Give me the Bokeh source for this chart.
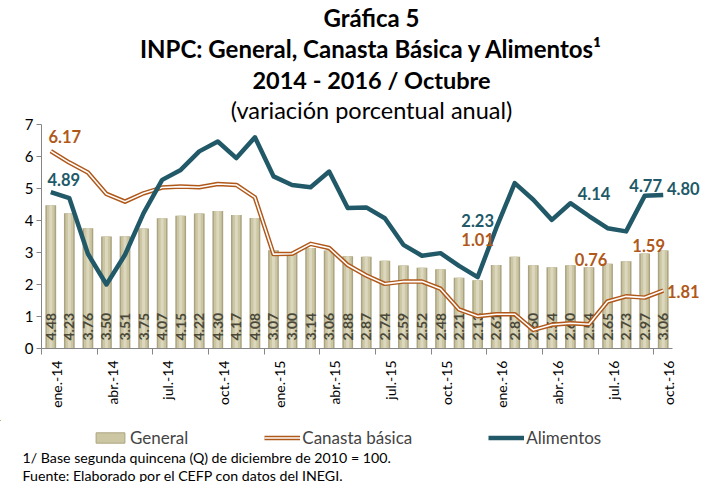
from math import pi
from bokeh.plotting import figure
from bokeh.models import (ColumnDataSource, FixedTicker, Range1d, Legend, LegendItem,
                          Title, Label)
from bokeh.core.properties import value
from bokeh.embed import file_html
from bokeh.resources import INLINE

# ---------------- data ----------------
months = ["ene.-14", "feb.-14", "mar.-14", "abr.-14", "may.-14", "jun.-14",
          "jul.-14", "ago.-14", "sep.-14", "oct.-14", "nov.-14", "dic.-14",
          "ene.-15", "feb.-15", "mar.-15", "abr.-15", "may.-15", "jun.-15",
          "jul.-15", "ago.-15", "sep.-15", "oct.-15", "nov.-15", "dic.-15",
          "ene.-16", "feb.-16", "mar.-16", "abr.-16", "may.-16", "jun.-16",
          "jul.-16", "ago.-16", "sep.-16", "oct.-16"]

general = [4.48, 4.23, 3.76, 3.50, 3.51, 3.75, 4.07, 4.15, 4.22, 4.30, 4.17, 4.08,
           3.07, 3.00, 3.14, 3.06, 2.88, 2.87, 2.74, 2.59, 2.52, 2.48, 2.21, 2.13,
           2.61, 2.87, 2.60, 2.54, 2.60, 2.54, 2.65, 2.73, 2.97, 3.06]

canasta = [6.17, 5.81, 5.50, 4.83, 4.59, 4.85, 5.03, 5.06, 5.04, 5.14, 5.11, 4.72,
           2.95, 2.96, 3.27, 3.14, 2.61, 2.28, 2.02, 2.09, 2.09, 1.87, 1.22, 1.01,
           1.07, 1.07, 0.58, 0.74, 0.79, 0.76, 1.47, 1.63, 1.59, 1.81]

alimentos = [4.89, 4.70, 2.96, 2.00, 2.93, 4.23, 5.27, 5.58, 6.16, 6.47, 5.95, 6.60,
             5.38, 5.11, 5.04, 5.53, 4.39, 4.41, 4.07, 3.24, 2.90, 2.98, 2.58, 2.23,
             3.76, 5.17, 4.65, 4.02, 4.54, 4.14, 3.76, 3.66, 4.77, 4.80]

labelled_alimentos = [0, 23, 29, 32, 33]
labelled_canasta = [0, 23, 29, 32, 33]

series_names = ["General", "Canasta básica", "Alimentos"]

title_lines = ["Gráfica 5",
               "INPC: General, Canasta Básica y Alimentos¹",
               "2014 - 2016 / Octubre",
               "(variación porcentual anual)"]
notes = ["1/ Base segunda quincena (Q) de diciembre de 2010 = 100.",
         "Fuente: Elaborado por el CEFP con datos del INEGI."]

# ---------------- layout / style constants ----------------
W = 701
LEFT, TOP, BOTTOM = 41, 120, 72
N = len(months)
UNIT = 631 / N                 # px per category
FW, FH = W - LEFT, 224
XMIN = -0.5
XMAX = XMIN + FW / UNIT
YMIN, YMAX = 0, 7
H2 = 478 - (TOP + FH + BOTTOM)  # height of the legend / notes strip
STRIP_X0, STRIP_Y0 = 1000, -1000  # strip coordinates, far from the series' values
LABEL_SHIFT = 0.3               # nudge rotated month labels onto their category
FONT = "Lato"
TEAL = "#215968"
ORANGE = "#B0581A"
AXIS_GREY = "#868686"
BAR_DARK, BAR_MID, BAR_LIGHT = "#ABA482", "#CCC6A3", "#DCD8C0"

x = list(range(N))
src = ColumnDataSource(dict(x=x, month=months, general=general, canasta=canasta,
                            alimentos=alimentos,
                            glabel=[f"{v:.2f}" for v in general]))

p = figure(frame_width=FW, frame_height=FH,
           x_range=Range1d(XMIN, XMAX), y_range=Range1d(YMIN, YMAX),
           output_backend="svg", toolbar_location=None, title=title_lines[0],
           min_border_left=LEFT, min_border_right=0,
           min_border_top=TOP, min_border_bottom=BOTTOM)
p.outline_line_color = None
p.xgrid.grid_line_color = None
p.ygrid.grid_line_color = None

# bars (cylinder-like shading)
p.vbar(x="x", top="general", width=0.58, source=src, fill_color=BAR_DARK, line_color=None)
p.vbar(x="x", top="general", width=0.42, source=src, fill_color=BAR_MID, line_color=None)
p.vbar(x="x", top="general", width=0.16, source=src, fill_color=BAR_LIGHT, line_color=None)

# bar value labels
p.text(x="x", y=0.25, text="glabel", source=src, angle=pi / 2,
       text_align="left", text_baseline="middle",
       text_font=value(FONT), text_font_style="bold", text_font_size="14px",
       text_color="#4A4838")

# lines
p.line("x", "canasta", source=src, line_color=ORANGE, line_width=4.5, line_join="round")
p.line("x", "canasta", source=src, line_color="white", line_width=1.6, line_join="round")
p.line("x", "alimentos", source=src, line_color=TEAL, line_width=4.5, line_join="round")

# value labels on lines
ali_off = [(13, -13), (0, -57), (5, -23), (1, -10), (20, -6)]
can_off = [(14, -15), (0, -77), (2, -65), (4, -52), (20, 1)]

ali_src = ColumnDataSource(dict(
    x=labelled_alimentos,
    y=[alimentos[i] for i in labelled_alimentos],
    t=[f"{alimentos[i]:.2f}" for i in labelled_alimentos],
    ox=[o[0] for o in ali_off], oy=[o[1] for o in ali_off]))
can_src = ColumnDataSource(dict(
    x=labelled_canasta,
    y=[canasta[i] for i in labelled_canasta],
    t=[f"{canasta[i]:.2f}" for i in labelled_canasta],
    ox=[o[0] for o in can_off], oy=[o[1] for o in can_off]))

for s, c in ((ali_src, TEAL), (can_src, ORANGE)):
    p.text(x="x", y="y", text="t", x_offset="ox", y_offset="oy", source=s,
           text_align="center", text_baseline="middle",
           text_font=value(FONT), text_font_style="bold", text_font_size="16.5px",
           text_color=c)

# axes
xt = x[::3]
p.xaxis.ticker = FixedTicker(ticks=[i + LABEL_SHIFT for i in xt],
                             minor_ticks=[i - 0.5 for i in xt])
p.xaxis.bounds = (-0.5, N - 0.5)
p.xaxis.major_label_overrides = {i + LABEL_SHIFT: months[i] for i in xt}
p.xaxis.major_label_orientation = pi / 2
p.xaxis.major_tick_out = 0
p.xaxis.major_tick_in = 0
p.xaxis.minor_tick_out = 6
p.xaxis.minor_tick_in = 0
p.xaxis.minor_tick_line_color = AXIS_GREY
p.xaxis.axis_line_color = AXIS_GREY
p.xaxis.major_label_text_font = FONT
p.xaxis.major_label_text_font_size = "14px"
p.xaxis.major_label_text_color = "black"
p.xaxis.major_label_standoff = 6

p.yaxis.ticker = FixedTicker(ticks=list(range(YMIN, YMAX + 1)))
p.yaxis.major_tick_out = 5
p.yaxis.major_tick_in = 0
p.yaxis.minor_tick_out = 0
p.yaxis.minor_tick_in = 0
p.yaxis.major_tick_line_color = AXIS_GREY
p.yaxis.axis_line_color = AXIS_GREY
p.yaxis.major_label_text_font = FONT
p.yaxis.major_label_text_font_size = "15px"
p.yaxis.major_label_text_color = "black"
p.yaxis.major_label_standoff = 3

# titles: p.title is outermost; p.above stacks outward from the frame
p.title.align = "center"
p.title.text_font = FONT
p.title.text_font_size = "24px"
p.title.text_font_style = "bold"
p.title.text_color = "black"
p.title.standoff = 0
p.title.offset = 2.5
for txt, st, off, style, size in ((title_lines[3], 1, -13, "normal", "23.5px"),
                                  (title_lines[2], 0, 6.5, "bold", "23.5px"),
                                  (title_lines[1], 1, -6, "bold", "24px")):
    p.add_layout(Title(text=txt, align="center", text_font=FONT, text_font_size=size,
                       text_font_style=style, text_color="black", standoff=st,
                       offset=off), "above")

# ---------------- legend + notes strip ----------------
p2 = figure(width=W, height=H2,
            x_range=Range1d(STRIP_X0, STRIP_X0 + W),
            y_range=Range1d(STRIP_Y0 - H2, STRIP_Y0),
            x_axis_type=None, y_axis_type=None, output_backend="svg",
            toolbar_location=None, min_border=0, min_border_left=0,
            min_border_right=0, min_border_top=0, min_border_bottom=0)
p2.outline_line_color = None

# legend proxies (their marks fall far outside this strip's visible range)
leg_bar = p2.vbar(x="x", top="general", width=1, source=src,
                  fill_color=BAR_MID, line_color=BAR_DARK)
leg_can_o = p2.line("x", "canasta", source=src, line_color=ORANGE, line_width=4.5)
leg_can_i = p2.line("x", "canasta", source=src, line_color="white", line_width=1.6)
leg_ali = p2.line("x", "alimentos", source=src, line_color=TEAL, line_width=4.5)

legend = Legend(items=[LegendItem(label=series_names[0], renderers=[leg_bar]),
                       LegendItem(label=series_names[1], renderers=[leg_can_o, leg_can_i]),
                       LegendItem(label=series_names[2], renderers=[leg_ali])],
                orientation="horizontal", location=(92, H2 - 27.5),
                glyph_width=36, glyph_height=13, label_height=17,
                spacing=76, label_standoff=2, padding=0, margin=0,
                border_line_color=None, background_fill_alpha=0,
                label_text_font=FONT, label_text_font_size="17px")
p2.add_layout(legend, "center")

for txt, top in zip(notes, (36.5, 54.5)):
    p2.add_layout(Label(x=STRIP_X0 + 22, y=STRIP_Y0 - top, text=txt, text_align="left",
                        text_baseline="middle", text_font=FONT,
                        text_font_size="14.2px", text_color="black"))

open("out.html", "w").write(file_html([p, p2], INLINE))
